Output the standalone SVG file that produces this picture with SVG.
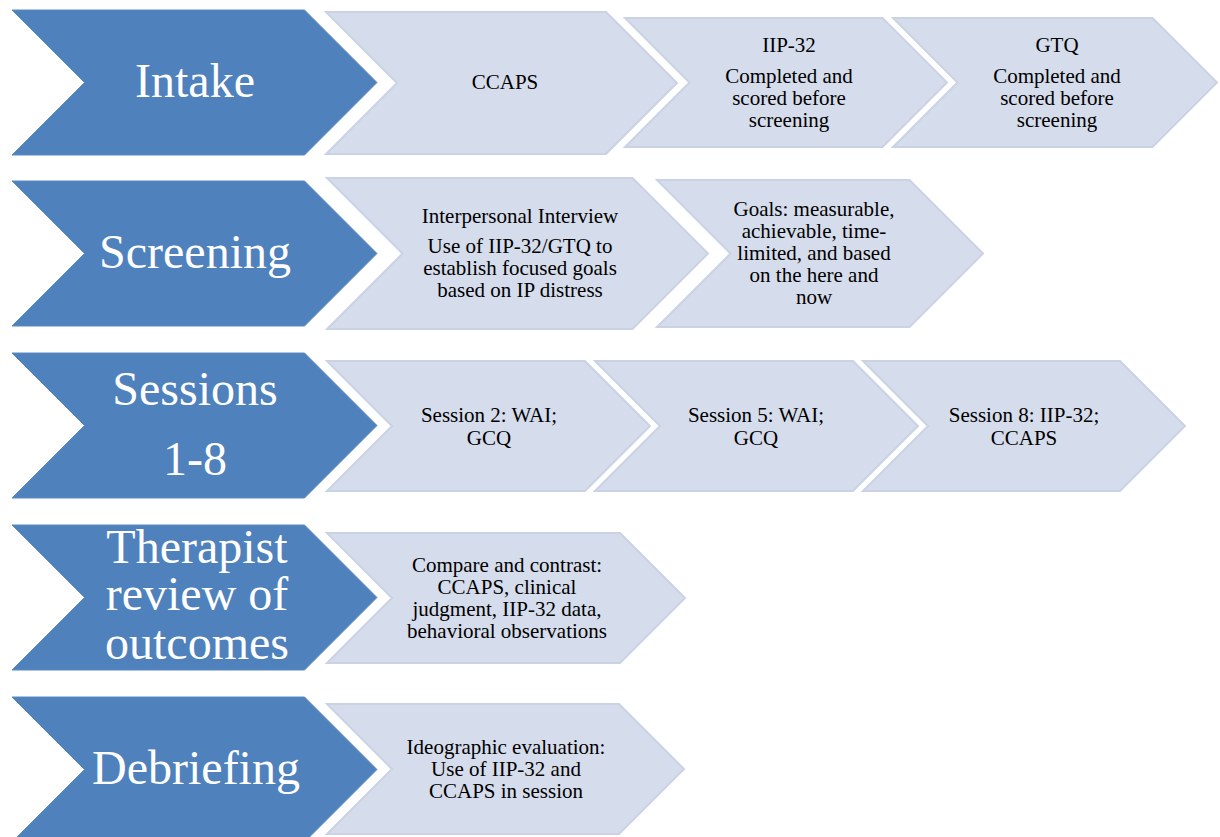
<svg xmlns="http://www.w3.org/2000/svg" width="1220" height="837" viewBox="0 0 1220 837">
  <style>
    .stage { fill: #4F81BD; stroke: #5A8AC2; stroke-width: 1; }
    .step { fill: #D5DCEB; stroke: #CAD2E4; stroke-width: 2; stroke-linejoin: miter; }
    .stage-label { font-family: "Liberation Serif", "Times New Roman", serif; font-size: 48px; fill: #FFFFFF; text-anchor: middle; }
    .step-label { font-family: "Liberation Serif", "Times New Roman", serif; font-size: 21px; fill: #000000; text-anchor: middle; }
  </style>
  <rect width="1220" height="837" fill="#FFFFFF"/>

  <!-- Row 1: Intake -->
  <g id="intake">
    <polygon class="stage" points="12,10 304.5,10 377,82.5 304.5,155 12,155 84.5,82.5"/>
    <text class="stage-label" x="195" y="97">Intake</text>
  </g>
  <g id="intake-ccaps">
    <polygon class="step" points="326,12 606,12 677,83 606,154 326,154 397,83"/>
    <text class="step-label" x="505" y="89">CCAPS</text>
  </g>
  <g id="intake-iip32">
    <polygon class="step" points="625,18 882.5,18 947,82.5 882.5,147 625,147 689.5,82.5"/>
    <text class="step-label" x="789" y="52">IIP-32</text>
    <text class="step-label" x="789" y="83">Completed and</text>
    <text class="step-label" x="789" y="105">scored before</text>
    <text class="step-label" x="789" y="127">screening</text>
  </g>
  <g id="intake-gtq">
    <polygon class="step" points="893,18 1152.5,18 1217,82.5 1152.5,147 893,147 957.5,82.5"/>
    <text class="step-label" x="1057" y="52">GTQ</text>
    <text class="step-label" x="1057" y="83">Completed and</text>
    <text class="step-label" x="1057" y="105">scored before</text>
    <text class="step-label" x="1057" y="127">screening</text>
  </g>

  <!-- Row 2: Screening -->
  <g id="screening">
    <polygon class="stage" points="12,181 304.5,181 377,253.5 304.5,326 12,326 84.5,253.5"/>
    <text class="stage-label" x="195" y="268">Screening</text>
  </g>
  <g id="screening-interview">
    <polygon class="step" points="327,178 632.5,178 708,253.5 632.5,329 327,329 402.5,253.5"/>
    <text class="step-label" x="520" y="223">Interpersonal Interview</text>
    <text class="step-label" x="520" y="253">Use of IIP-32/GTQ to</text>
    <text class="step-label" x="520" y="275">establish focused goals</text>
    <text class="step-label" x="520" y="297">based on IP distress</text>
  </g>
  <g id="screening-goals">
    <polygon class="step" points="657,180 909.5,180 983,253.5 909.5,327 657,327 730.5,253.5"/>
    <text class="step-label" x="814" y="216">Goals: measurable,</text>
    <text class="step-label" x="814" y="238">achievable, time-</text>
    <text class="step-label" x="814" y="260">limited, and based</text>
    <text class="step-label" x="814" y="282">on the here and</text>
    <text class="step-label" x="814" y="304">now</text>
  </g>

  <!-- Row 3: Sessions 1-8 -->
  <g id="sessions">
    <polygon class="stage" points="12,353 304.5,353 377,425.5 304.5,498 12,498 84.5,425.5"/>
    <text class="stage-label" x="195" y="405">Sessions</text>
    <text class="stage-label" x="195" y="475">1-8</text>
  </g>
  <g id="session-2">
    <polygon class="step" points="327,361 585,361 650,426 585,491 327,491 392,426"/>
    <text class="step-label" x="489" y="422">Session 2: WAI;</text>
    <text class="step-label" x="489" y="445">GCQ</text>
  </g>
  <g id="session-5">
    <polygon class="step" points="595,361 853,361 918,426 853,491 595,491 660,426"/>
    <text class="step-label" x="756" y="422">Session 5: WAI;</text>
    <text class="step-label" x="756" y="445">GCQ</text>
  </g>
  <g id="session-8">
    <polygon class="step" points="863,361 1120,361 1185,426 1120,491 863,491 928,426"/>
    <text class="step-label" x="1024" y="422">Session 8: IIP-32;</text>
    <text class="step-label" x="1024" y="445">CCAPS</text>
  </g>

  <!-- Row 4: Therapist review of outcomes -->
  <g id="review">
    <polygon class="stage" points="12,525 304.5,525 377,597.5 304.5,670 12,670 84.5,597.5"/>
    <text class="stage-label" x="197" y="563">Therapist</text>
    <text class="stage-label" x="197" y="610">review of</text>
    <text class="stage-label" x="197" y="659">outcomes</text>
  </g>
  <g id="review-compare">
    <polygon class="step" points="327,533 620,533 685,598 620,663 327,663 392,598"/>
    <text class="step-label" x="507" y="572">Compare and contrast:</text>
    <text class="step-label" x="507" y="594">CCAPS, clinical</text>
    <text class="step-label" x="507" y="616">judgment, IIP-32 data,</text>
    <text class="step-label" x="507" y="638">behavioral observations</text>
  </g>

  <!-- Row 5: Debriefing -->
  <g id="debriefing">
    <polygon class="stage" points="12,697 304.5,697 377,769.5 304.5,842 12,842 84.5,769.5"/>
    <text class="stage-label" x="196" y="784">Debriefing</text>
  </g>
  <g id="debriefing-evaluation">
    <polygon class="step" points="327,704 619,704 684,769 619,834 327,834 392,769"/>
    <text class="step-label" x="506" y="754">Ideographic evaluation:</text>
    <text class="step-label" x="506" y="776">Use of IIP-32 and</text>
    <text class="step-label" x="506" y="798">CCAPS in session</text>
  </g>

  <!-- the chevrons abut one another; there are no separate connector lines -->
  <g id="connectors"/>
</svg>
